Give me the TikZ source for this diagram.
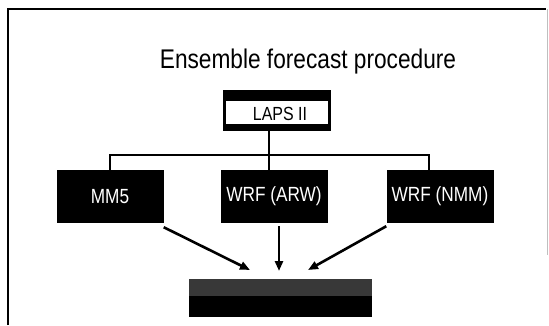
\documentclass[tikz,border=0pt]{standalone}
\usepackage{fontspec}
\setmainfont{Liberation Sans}
\newfontfamily\narrowsans[FakeStretch=0.84]{Liberation Sans}
\usetikzlibrary{arrows.meta}
\tikzset{
  blackbox/.style={rectangle, fill=black, text=white, inner sep=0pt,
    minimum width=107pt, minimum height=53pt, font=\narrowsans\fontsize{20.5}{22}\selectfont},
  conn/.style={line width=2pt, black},
  arr/.style={line width=2.6pt, black, -{Triangle[length=10pt,width=8pt]}, shorten >=0pt}
}
\begin{document}
\begin{tikzpicture}[x=1pt,y=-1pt]
\useasboundingbox (0,0) rectangle (549,325);
% frame
\draw[line width=2pt] (8,325) -- (8,9) -- (546,9);
\draw[line width=0.8pt, black!25] (547,9) -- (547,255);
% title
\node[anchor=base, inner sep=0pt, font=\narrowsans\fontsize{27}{30}\selectfont] (title) at (308,68) {Ensemble forecast procedure};
% LAPS II
\node[rectangle, fill=black, inner sep=0pt, minimum width=108pt, minimum height=41pt,
  path picture={\fill[white] ([xshift=3pt,yshift=-11pt]path picture bounding box.north west) rectangle ([xshift=-3pt,yshift=7pt]path picture bounding box.south east);}] (laps) at (277,110.5) {};
\node[inner sep=0pt, anchor=base, font=\narrowsans\fontsize{19}{22}\selectfont] (lapstext) at (280,120.5) {LAPS II};
% models
\node[blackbox] (mm5) at (110,196.5) {MM5};
\node[blackbox] (arw) at (274,196.5) {WRF (ARW)};
\node[blackbox] (nmm) at (440,196.5) {WRF (NMM)};
% bottom box
\node[rectangle, fill=black, inner sep=0pt, minimum width=183pt, minimum height=38pt,
  path picture={\fill[black!78] (path picture bounding box.north west) rectangle ([yshift=21pt]path picture bounding box.south east);}] (ens) at (280.5,298) {};
% tree connectors
\coordinate (busL) at (110,155);
\coordinate (busM) at (269,155);
\coordinate (busR) at (429,155);
\draw[conn] (busM |- laps.south) -- (busM) -- (busM |- arw.north);
\draw[conn] (busL |- mm5.north) -- (busL) -- (busR) -- (busR |- nmm.north);
% arrows
\coordinate (tL) at (250,270);
\coordinate (tM) at (279,271);
\coordinate (tR) at (308,270);
\draw[arr] (mm5.south east) ++(0,4) -- (tL);
\draw[arr] (tM |- arw.south) ++(0,3) -- (tM);
\draw[arr] (nmm.south west) ++(0,3) -- (tR);
\end{tikzpicture}
\end{document}
